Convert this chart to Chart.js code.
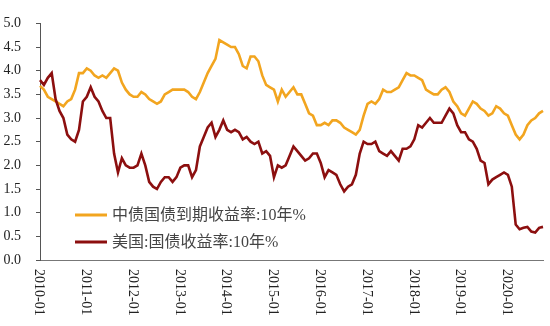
<!DOCTYPE html>
<html>
<head>
<meta charset="utf-8">
<script src="https://cdn.jsdelivr.net/npm/chart.js@4/dist/chart.umd.min.js"></script>
<style>
  body { margin: 0; background: #fff; }
  canvas { display: block; }
</style>
</head>
<body>
<canvas id="yieldChart" width="550" height="326"></canvas>
<script>
// 月度数据 2010-01 .. 2020-10
const months = [];
for (let y = 2010; y <= 2020; y++) {
  for (let m = 1; m <= 12; m++) {
    if (y === 2020 && m > 10) break;
    months.push(`${y}-${String(m).padStart(2, "0")}`);
  }
}

const seriesNames = ["中债国债到期收益率:10年%", "美国:国债收益率:10年%"];

// 中债国债到期收益率:10年
const chinaYield = [
  3.68, 3.60, 3.45, 3.40, 3.35, 3.30, 3.25, 3.35, 3.40, 3.60, 3.95, 3.95,
  4.05, 4.00, 3.90, 3.85, 3.90, 3.85, 3.95, 4.05, 4.00, 3.75, 3.60, 3.50,
  3.45, 3.45, 3.55, 3.50, 3.40, 3.35, 3.30, 3.35, 3.50, 3.55, 3.60, 3.60,
  3.60, 3.60, 3.55, 3.45, 3.40, 3.55, 3.75, 3.95, 4.10, 4.25, 4.65, 4.60,
  4.55, 4.50, 4.50, 4.35, 4.10, 4.05, 4.30, 4.30, 4.20, 3.90, 3.70, 3.65,
  3.60, 3.35, 3.60, 3.45, 3.55, 3.65, 3.50, 3.50, 3.30, 3.10, 3.05, 2.85,
  2.85, 2.90, 2.85, 2.95, 2.95, 2.90, 2.80, 2.75, 2.70, 2.65, 2.75, 3.05,
  3.30, 3.35, 3.30, 3.40, 3.60, 3.55, 3.55, 3.60, 3.65, 3.80, 3.95, 3.90,
  3.90, 3.85, 3.80, 3.60, 3.55, 3.50, 3.50, 3.60, 3.65, 3.55, 3.35, 3.25,
  3.10, 3.05, 3.20, 3.35, 3.30, 3.20, 3.15, 3.05, 3.10, 3.25, 3.20, 3.10,
  3.05, 2.85, 2.65, 2.55, 2.65, 2.85, 2.95, 3.00, 3.10, 3.15
];

// 美国:国债收益率:10年
const usYield = [
  3.80, 3.70, 3.85, 3.95, 3.40, 3.15, 3.00, 2.65, 2.55, 2.50, 2.75, 3.35,
  3.45, 3.65, 3.45, 3.35, 3.15, 3.00, 3.00, 2.25, 1.85, 2.15, 2.00, 1.95,
  1.95, 2.00, 2.25, 2.00, 1.65, 1.55, 1.50, 1.65, 1.75, 1.75, 1.65, 1.75,
  1.95, 2.00, 2.00, 1.75, 1.90, 2.40, 2.60, 2.80, 2.90, 2.60, 2.75, 2.95,
  2.75, 2.70, 2.75, 2.70, 2.55, 2.60, 2.50, 2.45, 2.50, 2.25, 2.30, 2.20,
  1.75, 2.00, 1.95, 2.00, 2.20, 2.40, 2.30, 2.20, 2.10, 2.15, 2.25, 2.25,
  2.05, 1.75, 1.90, 1.85, 1.80, 1.60, 1.45, 1.55, 1.60, 1.80, 2.25, 2.50,
  2.45, 2.45, 2.50, 2.30, 2.25, 2.20, 2.30, 2.20, 2.10, 2.35, 2.35, 2.40,
  2.55, 2.85, 2.80, 2.90, 3.00, 2.90, 2.90, 2.90, 3.05, 3.20, 3.10, 2.85,
  2.70, 2.70, 2.55, 2.50, 2.35, 2.10, 2.05, 1.60, 1.70, 1.75, 1.80, 1.85,
  1.80, 1.55, 0.75, 0.65, 0.68, 0.70, 0.60, 0.58, 0.68, 0.70
];

const yTicks = [0, 0.5, 1.0, 1.5, 2.0, 2.5, 3.0, 3.5, 4.0, 4.5, 5.0];
const colors = ["#F2A51F", "#8C0F0F"];

const serif = "'Liberation Serif', 'Noto Sans CJK SC', serif";

// 竖排的x轴标签(顺时针旋转)
const xLabelPlugin = {
  id: "xLabels",
  afterDraw(chart) {
    const ctx = chart.ctx;
    const xs = chart.scales.x;
    ctx.save();
    ctx.fillStyle = "#222";
    ctx.font = `14px ${serif}`;
    ctx.textAlign = "left";
    ctx.textBaseline = "middle";
    months.forEach((lbl, i) => {
      if (!lbl.endsWith("-01")) return;
      const x = xs.getPixelForValue(i);
      ctx.save();
      ctx.translate(x - 1, xs.top + 9);
      ctx.rotate(Math.PI / 2);
      ctx.fillText(lbl, 0, 0);
      ctx.restore();
    });
    ctx.restore();
  }
};

// 图内图例
const legendPlugin = {
  id: "innerLegend",
  afterDraw(chart) {
    const ctx = chart.ctx;
    ctx.save();
    ctx.font = `16px ${serif}`;
    ctx.textBaseline = "middle";
    ctx.textAlign = "left";
    seriesNames.forEach((name, i) => {
      const y = 215 + i * 27;
      ctx.strokeStyle = colors[i];
      ctx.lineWidth = 3;
      ctx.beginPath();
      ctx.moveTo(75, y);
      ctx.lineTo(107, y);
      ctx.stroke();
      ctx.fillStyle = "#444";
      ctx.fillText(name, 112, y + 1);
    });
    ctx.restore();
  }
};

new Chart(document.getElementById("yieldChart"), {
  type: "line",
  data: {
    labels: months,
    datasets: [
      { label: seriesNames[0], data: chinaYield, borderColor: colors[0], borderWidth: 2.6, pointRadius: 0, tension: 0, order: 2 },
      { label: seriesNames[1], data: usYield, borderColor: colors[1], borderWidth: 2.6, pointRadius: 0, tension: 0, order: 1 }
    ]
  },
  options: {
    responsive: false,
    animation: false,
    layout: { padding: { top: 16, right: 7, left: 0, bottom: 0 } },
    plugins: {
      legend: { display: false },
      tooltip: { enabled: false }
    },
    scales: {
      x: {
        offset: false,
        grid: { display: false },
        border: { display: true, color: "#777", width: 1 },
        ticks: { display: false },
        afterFit: s => { s.height = 66; }
      },
      y: {
        min: 0,
        max: 5,
        afterBuildTicks: s => { s.ticks = yTicks.map(v => ({ value: v })); },
        grid: { display: true, drawOnChartArea: false, drawTicks: true, tickLength: 4, color: "#555" },
        border: { display: true, color: "#555", width: 1 },
        ticks: {
          color: "#222",
          padding: 15,
          font: { family: serif, size: 14 },
          callback: v => v.toFixed(1)
        },
        afterFit: s => { s.width = 40; }
      }
    }
  },
  plugins: [xLabelPlugin, legendPlugin]
});
</script>
</body>
</html>
